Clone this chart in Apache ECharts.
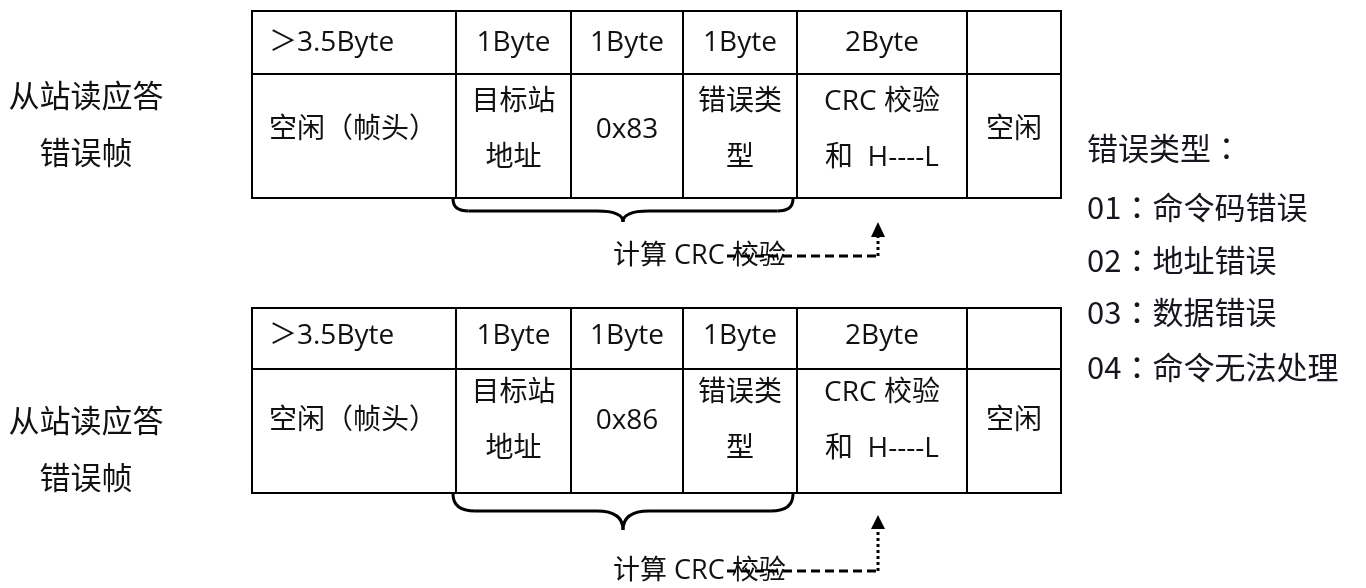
<!DOCTYPE html>
<html>
<head>
<meta charset="utf-8">
<script src="https://cdn.jsdelivr.net/npm/echarts@6/dist/echarts.min.js"></script>
<style>
html,body{margin:0;padding:0;background:#fff;}
#c{width:1366px;height:588px;}
</style>
</head>
<body>
<div id="c"></div>
<script>
// ---- content (values / texts) ----
const byteLabels = ['＞3.5Byte', '1Byte', '1Byte', '1Byte', '2Byte', ''];
const fieldLabels = ['空闲（帧头）', '目标站\n地址', '{code}', '错误类\n型', 'CRC 校验\n和  H----L', '空闲'];
const functionCodes = ['0x83', '0x86'];
const frameTitles = ['从站读应答', '错误帧'];
const crcLabel = '计算 CRC 校验';
const errorTypeTitle = '错误类型：';
const errorTypes = ['01：命令码错误', '02：地址错误', '03：数据错误', '04：命令无法处理'];

// ---- layout (axis units = canvas pixels via hidden value axes) ----
const COL_EDGES = [252, 456, 571, 683, 797, 967, 1061];
const TABLE_TOP = [11, 308];
const TABLE_MID = [74, 369];
const TABLE_BOTTOM = [198, 493];
const HEADER_TEXT_Y = [43, 336];
const BODY_TEXT_Y = [130, 421];
const BRACE_X = [453, 623, 793];
const BRACE_BAR_Y = [211, 511];
const BRACE_TIP_Y = [222, 530];
const ARROW_X = 878;
const ARROW_TIP_Y = [222, 515];
const ARROW_BASE_Y = [237, 529];
const DASH_Y = [256, 571];
const DASH_X0 = 727;
const CRC_TEXT_X = 613;
const CRC_TEXT_Y = [256, 571];
const TITLE_X = 86;
const TITLE_Y = [[95, 152], [420, 477]];
const LEGEND_X = 1087;
const LEGEND_Y = [148, 207, 260, 312, 367];

const FONT_TABLE = "'Open Sans','Noto Sans CJK SC',sans-serif";
const FONT_CJK = "'Noto Sans CJK SC',sans-serif";
const FONT_PUNCT = "'Noto Sans CJK TC',sans-serif";

const cellData = [];
functionCodes.forEach(function (code, t) {
  for (let r = 0; r < 2; r++) {
    for (let c = 0; c < byteLabels.length; c++) cellData.push([t, r, c]);
  }
});
function cellText(t, r, c) {
  return r === 0 ? byteLabels[c] : fieldLabels[c].replace('{code}', functionCodes[t]);
}

const titleData = [];
functionCodes.forEach(function (code, t) {
  frameTitles.forEach(function (s, i) { titleData.push([t, i]); });
});
const legendItems = [errorTypeTitle].concat(errorTypes);
const legendData = legendItems.map(function (s, i) { return [i]; });
const frameData = functionCodes.map(function (c, t) { return [t]; });

// wrap the full-width colon so it is drawn centred, as in the reference
function legendRich(s) {
  return s.split('：').join('{p|：}');
}

const chart = echarts.init(document.getElementById('c'), null, { renderer: 'canvas' });

const option = {
  animation: false,
  backgroundColor: '#ffffff',
  grid: { left: 0, right: 0, top: 0, bottom: 0, containLabel: false },
  xAxis: { type: 'value', min: 0, max: 1366, show: false },
  yAxis: { type: 'value', min: 0, max: 588, inverse: true, show: false },
  series: [
    {
      // table cells
      type: 'custom', silent: true, z: 2,
      data: cellData,
      renderItem: function (params, api) {
        const t = api.value(0), r = api.value(1), c = api.value(2);
        const y0 = r === 0 ? TABLE_TOP[t] : TABLE_MID[t];
        const y1 = r === 0 ? TABLE_MID[t] : TABLE_BOTTOM[t];
        const p0 = api.coord([COL_EDGES[c], y0]);
        const p1 = api.coord([COL_EDGES[c + 1], y1]);
        const left = c === 0;
        const tx = left ? COL_EDGES[c] + 17 : (COL_EDGES[c] + COL_EDGES[c + 1]) / 2;
        const ty = r === 0 ? HEADER_TEXT_Y[t] : BODY_TEXT_Y[t];
        const tp = api.coord([tx, ty]);
        return {
          type: 'group',
          children: [
            { type: 'rect', shape: { x: p0[0], y: p0[1], width: p1[0] - p0[0], height: p1[1] - p0[1] },
              style: { fill: 'none', stroke: '#000', lineWidth: 2 } },
            { type: 'text', x: tp[0], y: tp[1],
              style: { text: cellText(t, r, c), fontSize: 28, fontFamily: FONT_TABLE, fill: '#111',
                       align: left ? 'left' : 'center', verticalAlign: 'middle', lineHeight: 56 } }
          ]
        };
      }
    },
    {
      // frame titles on the left
      type: 'custom', silent: true, z: 3,
      data: titleData,
      renderItem: function (params, api) {
        const t = api.value(0), i = api.value(1);
        const p = api.coord([TITLE_X, TITLE_Y[t][i]]);
        return { type: 'text', x: p[0], y: p[1],
          style: { text: frameTitles[i], fontSize: 31, fontFamily: FONT_CJK, fill: '#111',
                   align: 'center', verticalAlign: 'middle' } };
      }
    },
    {
      // error type legend on the right
      type: 'custom', silent: true, z: 3,
      data: legendData,
      renderItem: function (params, api) {
        const i = api.value(0);
        const p = api.coord([LEGEND_X, LEGEND_Y[i]]);
        return { type: 'text', x: p[0], y: p[1],
          style: { text: legendRich(legendItems[i]), fontSize: 31, fontFamily: FONT_CJK, fill: '#16161e',
                   align: 'left', verticalAlign: 'middle',
                   rich: { p: { fontSize: 31, fontFamily: FONT_PUNCT, fill: '#16161e' } } } };
      }
    },
    {
      // braces, CRC label, dashed arrow
      type: 'custom', silent: true, z: 4,
      data: frameData,
      renderItem: function (params, api) {
        const t = api.value(0);
        const top = TABLE_BOTTOM[t] + 1, bar = BRACE_BAR_Y[t], tip = BRACE_TIP_Y[t];
        const L = BRACE_X[0], M = BRACE_X[1], R = BRACE_X[2];
        const r1 = (bar - top) * 1.3, r2 = 26;
        const P = function (x, y) { return api.coord([x, y]); };
        const bs = { stroke: '#000', lineWidth: 3, fill: 'none' };
        function quad(a, cp, b) {
          return { type: 'bezierCurve', shape: { x1: a[0], y1: a[1], cpx1: cp[0], cpy1: cp[1], x2: b[0], y2: b[1] }, style: bs };
        }
        function line(a, b, st) {
          return { type: 'line', shape: { x1: a[0], y1: a[1], x2: b[0], y2: b[1] }, style: st || bs };
        }
        const at = P(ARROW_X, ARROW_TIP_Y[t]);
        const ab1 = P(ARROW_X - 7, ARROW_BASE_Y[t]);
        const ab2 = P(ARROW_X + 7, ARROW_BASE_Y[t]);
        const tp = P(CRC_TEXT_X, CRC_TEXT_Y[t]);
        return {
          type: 'group',
          children: [
            quad(P(L, top), P(L, bar), P(L + r1, bar)),
            line(P(L + r1, bar), P(M - r2, bar)),
            quad(P(M - r2, bar), P(M, bar), P(M, tip)),
            quad(P(M + r2, bar), P(M, bar), P(M, tip)),
            line(P(M + r2, bar), P(R - r1, bar)),
            quad(P(R, top), P(R, bar), P(R - r1, bar)),
            { type: 'text', x: tp[0], y: tp[1],
              style: { text: crcLabel, fontSize: 27, fontFamily: FONT_TABLE, fill: '#111',
                       align: 'left', verticalAlign: 'middle' } },
            line(P(DASH_X0, DASH_Y[t]), P(ARROW_X, DASH_Y[t]),
                 { stroke: '#000', lineWidth: 3, lineDash: [9, 5] }),
            line(P(ARROW_X, DASH_Y[t]), P(ARROW_X, ARROW_BASE_Y[t]),
                 { stroke: '#000', lineWidth: 3, lineDash: [3, 3] }),
            { type: 'polygon', shape: { points: [at, ab1, ab2] }, style: { fill: '#000' } }
          ]
        };
      }
    }
  ]
};
chart.setOption(option);
</script>
</body>
</html>
